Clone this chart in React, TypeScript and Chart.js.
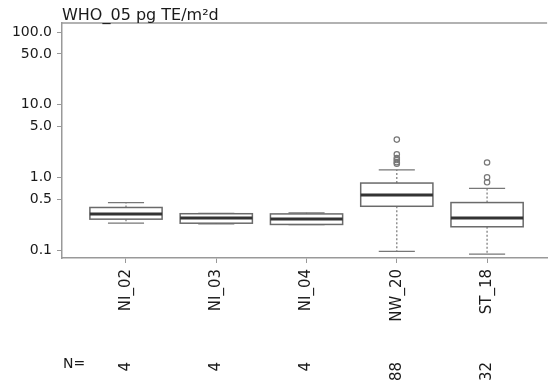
import React, { useEffect, useRef } from 'react';
import { Chart, registerables } from 'chart.js';
Chart.register(...registerables);

const title = 'WHO_05 pg TE/m²d';
const categories = ['NI_02', 'NI_03', 'NI_04', 'NW_20', 'ST_18'];
const counts = [4, 4, 4, 88, 32];
const whiskerLow = [0.234, 0.228, 0.224, 0.096, 0.088];
const q1 = [0.266, 0.234, 0.225, 0.4, 0.209];
const median = [0.314, 0.277, 0.268, 0.573, 0.277];
const q3 = [0.385, 0.316, 0.314, 0.835, 0.45];
const whiskerHigh = [0.45, 0.32, 0.325, 1.27, 0.707];
const outliers = [[], [], [], [3.31, 2.08, 1.84, 1.73, 1.62, 1.54], [1.6, 1.0, 0.855]];
const yTickValues = [0.1, 0.5, 1, 5, 10, 50, 100];

const FONT = '"DejaVu Sans", "Liberation Sans", Arial, sans-serif';

export default function App() {
  const ref = useRef<HTMLCanvasElement>(null);
  useEffect(() => {
    const canvas = ref.current!;
    const outlierPts: { x: number; y: number }[] = [];
    outliers.forEach((arr, i) => arr.forEach((v) => outlierPts.push({ x: i, y: v })));

    const boxPlugin = {
      id: 'boxes',
      beforeDatasetsDraw(chart: any) {
        const ctx = chart.ctx;
        const xs = chart.scales.x;
        const ys = chart.scales.y;
        const halfBox = xs.getPixelForValue(0.4) - xs.getPixelForValue(0);
        const halfCap = halfBox * 0.5;
        ctx.save();
        categories.forEach((_, i) => {
          const cx = xs.getPixelForValue(i);
          const yq1 = ys.getPixelForValue(q1[i]);
          const yq3 = ys.getPixelForValue(q3[i]);
          const ymed = ys.getPixelForValue(median[i]);
          const ylo = ys.getPixelForValue(whiskerLow[i]);
          const yhi = ys.getPixelForValue(whiskerHigh[i]);
          // whiskers (dotted)
          ctx.strokeStyle = '#777';
          ctx.lineWidth = 1.2;
          ctx.setLineDash([2, 2]);
          ctx.beginPath();
          ctx.moveTo(cx, yq3);
          ctx.lineTo(cx, yhi);
          ctx.moveTo(cx, yq1);
          ctx.lineTo(cx, ylo);
          ctx.stroke();
          ctx.setLineDash([]);
          // caps
          ctx.beginPath();
          ctx.moveTo(cx - halfCap, yhi);
          ctx.lineTo(cx + halfCap, yhi);
          ctx.moveTo(cx - halfCap, ylo);
          ctx.lineTo(cx + halfCap, ylo);
          ctx.stroke();
          // box
          ctx.fillStyle = '#fff';
          ctx.fillRect(cx - halfBox, yq3, halfBox * 2, yq1 - yq3);
          ctx.strokeStyle = '#6a6a6a';
          ctx.lineWidth = 1.5;
          ctx.strokeRect(cx - halfBox, yq3, halfBox * 2, yq1 - yq3);
          // median
          ctx.strokeStyle = '#333';
          ctx.lineWidth = 3;
          ctx.beginPath();
          ctx.moveTo(cx - halfBox, ymed);
          ctx.lineTo(cx + halfBox, ymed);
          ctx.stroke();
        });
        ctx.restore();
      },
      afterDraw(chart: any) {
        const ctx = chart.ctx;
        const area = chart.chartArea;
        const xs = chart.scales.x;
        ctx.save();
        // top frame line
        ctx.strokeStyle = '#999';
        ctx.lineWidth = 1.5;
        ctx.beginPath();
        ctx.moveTo(area.left, area.top);
        ctx.lineTo(area.right, area.top);
        ctx.stroke();
        // title
        ctx.fillStyle = '#1a1a1a';
        ctx.font = `16px ${FONT}`;
        ctx.textAlign = 'left';
        ctx.textBaseline = 'alphabetic';
        ctx.fillText(title, area.left, 20);
        // N= row
        ctx.font = `14px ${FONT}`;
        ctx.textBaseline = 'middle';
        ctx.fillText('N=', 63, 364);
        ctx.font = `15px ${FONT}`;
        categories.forEach((_, i) => {
          const cx = xs.getPixelForValue(i);
          ctx.save();
          ctx.translate(cx, 362);
          ctx.rotate(-Math.PI / 2);
          ctx.textAlign = 'right';
          ctx.textBaseline = 'middle';
          ctx.fillText(String(counts[i]), 0, 0);
          ctx.restore();
        });
        ctx.restore();
      },
    };

    const chart = new Chart(canvas, {
      type: 'scatter',
      data: {
        datasets: [
          {
            data: outlierPts,
            pointRadius: 2.7,
            pointHoverRadius: 2.7,
            borderColor: '#777',
            backgroundColor: 'rgba(0,0,0,0)',
            borderWidth: 1.2,
          },
        ],
      },
      options: {
        animation: false,
        responsive: false,
        maintainAspectRatio: false,
        layout: { padding: { top: 23, left: 0, right: 0, bottom: 0 } },
        plugins: { legend: { display: false }, tooltip: { enabled: false }, title: { display: false } },
        scales: {
          x: {
            type: 'linear',
            min: -0.709,
            max: 4.665,
            afterFit(s: any) {
              s.height = 125;
            },
            afterBuildTicks(s: any) {
              s.ticks = categories.map((_, i) => ({ value: i }));
            },
            grid: { drawOnChartArea: false, drawTicks: true, tickLength: 5, color: '#999' },
            border: { display: true, color: '#999', width: 1.5 },
            ticks: {
              autoSkip: false,
              minRotation: 90,
              maxRotation: 90,
              padding: 6,
              color: '#1a1a1a',
              font: { family: FONT, size: 15 },
              callback: (v: any) => categories[Math.round(Number(v))] ?? '',
            },
          },
          y: {
            type: 'logarithmic',
            min: 0.0777,
            max: 133,
            afterFit(s: any) {
              s.width = 62;
            },
            afterBuildTicks(s: any) {
              s.ticks = yTickValues.map((v) => ({ value: v }));
            },
            grid: { drawOnChartArea: false, drawTicks: true, tickLength: 5, color: '#999' },
            border: { display: true, color: '#999', width: 1.5 },
            ticks: {
              autoSkip: false,
              padding: 5,
              color: '#1a1a1a',
              font: { family: FONT, size: 14 },
              callback: (v: any) => Number(v).toFixed(1),
            },
          },
        },
      },
      plugins: [boxPlugin],
    } as any);
    return () => chart.destroy();
  }, []);
  return (
    <div style={{ position: 'fixed', left: 0, top: 0, width: 551, height: 383, background: '#fff' }}>
      <canvas ref={ref} width={551} height={383} style={{ display: 'block' }} />
    </div>
  );
}
